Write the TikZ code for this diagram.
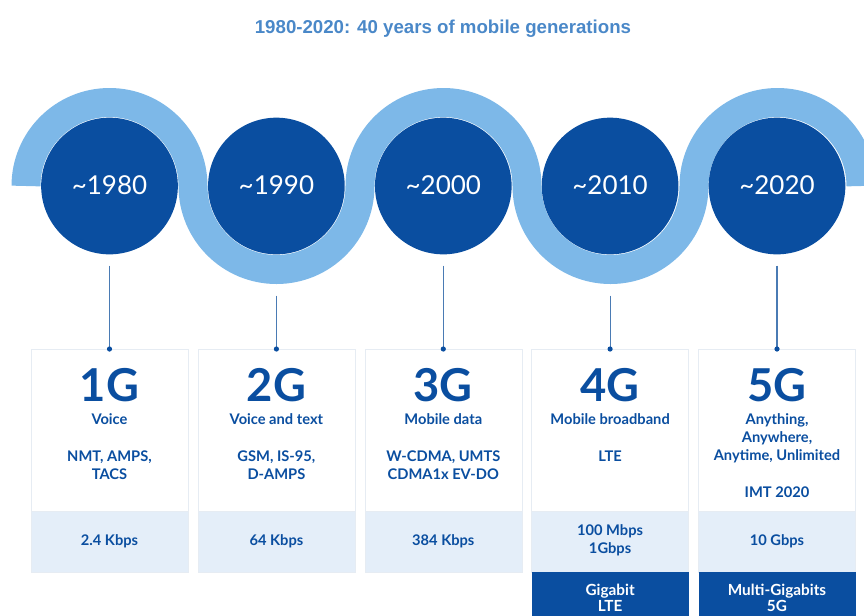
\documentclass[tikz,border=0pt]{standalone}
\usepackage{fontspec}
\setmainfont{Lato}
\newfontfamily\titlefont{Liberation Sans}
\usetikzlibrary{positioning}

\definecolor{genDark}{HTML}{0A4EA0}
\definecolor{genBand}{HTML}{7DB8E8}
\definecolor{genTitle}{HTML}{4A88C8}
\definecolor{genPale}{HTML}{E4EEF9}
\definecolor{genEdge}{HTML}{E6ECF3}
\definecolor{genStem}{HTML}{4A7BB4}

\begin{document}
\begin{tikzpicture}[x=0.75pt,y=0.75pt,yscale=-1,xscale=1,
  yearball/.style={circle,fill=genDark,text=white,minimum size=102.5pt,inner sep=0pt,font=\fontsize{19.5}{22}\selectfont},
  cardtop/.style={draw=genEdge,fill=white,minimum width=117.75pt,minimum height=121.5pt,inner sep=0pt,outer sep=0pt},
  cardspeed/.style={draw=genEdge,fill=genPale,minimum width=117.75pt,minimum height=45.75pt,inner sep=0pt,outer sep=0pt},
  cardgiga/.style={fill=genDark,minimum width=117.75pt,minimum height=36pt,inner sep=0pt,outer sep=0pt},
  genlabel/.style={text=genDark,font=\fontsize{34}{36}\selectfont\bfseries,inner sep=0pt,anchor=base},
  bluetext/.style={text=genDark,font=\fontsize{11}{13.25}\selectfont\bfseries,align=center,inner sep=0pt,anchor=base},
  whitetext/.style={bluetext,text=white,font=\fontsize{11.5}{12}\selectfont\bfseries},
  stem/.style={draw=genStem,line width=0.8pt}]
\useasboundingbox (0,0) rectangle (864,615);

% Title
\node[anchor=base,text=genTitle,font=\titlefont\fontsize{14}{16}\selectfont\bfseries] (title) at (443,33) {1980-2020: 40 years of mobile generations};

% Cards
\foreach \i/\x in {1/109.5,2/276.4,3/443.3,4/610.1,5/777}{
  \node[cardtop,anchor=north] (card\i) at (\x,349) {};
  \node[cardspeed,below=0pt of card\i] (spd\i) {};
}

% Gigabit boxes
\foreach \i in {4,5}{
  \node[cardgiga,below=0pt of spd\i] (giga\i) {};
  \fill[genDark] ([xshift=-5pt]giga\i.north) -- ([yshift=4.5pt]giga\i.north) -- ([xshift=5pt]giga\i.north) -- cycle;
}

% Wave
\draw[genBand,line width=21.75pt] (26,186) arc[start angle=180,end angle=360,radius=83.5]
  arc[start angle=180,end angle=0,radius=83.5] arc[start angle=180,end angle=360,radius=83.5]
  arc[start angle=180,end angle=0,radius=83.5] arc[start angle=180,end angle=360,radius=83.5];

% Year circles
\foreach \i/\x/\yr in {1/109.5/1980,2/276.4/1990,3/443.3/2000,4/610.1/2010,5/777/2020}
  \node[yearball] (c\i) at (\x,186) {\raisebox{2pt}{\textasciitilde\yr}};

% Stems
\foreach \i/\sh in {1/8.25pt,2/30.75pt,3/8.25pt,4/30.75pt,5/8.25pt}{
  \draw[stem,shorten <=\sh] (c\i.south) -- (card\i.north);
  \fill[genDark] (card\i.north) circle (2.6);
}

% Text Node
\foreach \i/\x in {1/109.5,2/276.4,3/443.3,4/610.1,5/777}
  \node[genlabel] (gen\i) at (\x,401) {\i G};

\node[bluetext] (use1) at (109.5,424) {Voice};
\node[bluetext] (use2) at (276.4,424) {Voice and text};
\node[bluetext] (use3) at (443.3,424) {Mobile data};
\node[bluetext] (use4) at (610.1,424) {Mobile broadband};
\node[bluetext] (use5) at (777,460) {Anything,\\Anywhere,\\Anytime, Unlimited};

\node[bluetext] (tech1) at (109.5,479) {NMT, AMPS,\\TACS};
\node[bluetext] (tech2) at (276.4,479) {GSM, IS-95,\\D-AMPS};
\node[bluetext] (tech3) at (443.3,479) {W-CDMA, UMTS\\CDMA1x EV-DO};
\node[bluetext] (tech4) at (610.1,461.5) {LTE};
\node[bluetext] (tech5) at (777,497) {IMT 2020};

\node[bluetext] (rate1) at (109.5,545) {2.4 Kbps};
\node[bluetext] (rate2) at (276.4,545) {64 Kbps};
\node[bluetext] (rate3) at (443.3,545) {384 Kbps};
\node[bluetext] (rate4) at (610.1,553) {100 Mbps\\1Gbps};
\node[bluetext] (rate5) at (777,545) {10 Gbps};

\node[whitetext] (gtext4) at (610.1,611) {Gigabit\\LTE};
\node[whitetext] (gtext5) at (777,611) {Multi-Gigabits\\5G};

\end{tikzpicture}
\end{document}
